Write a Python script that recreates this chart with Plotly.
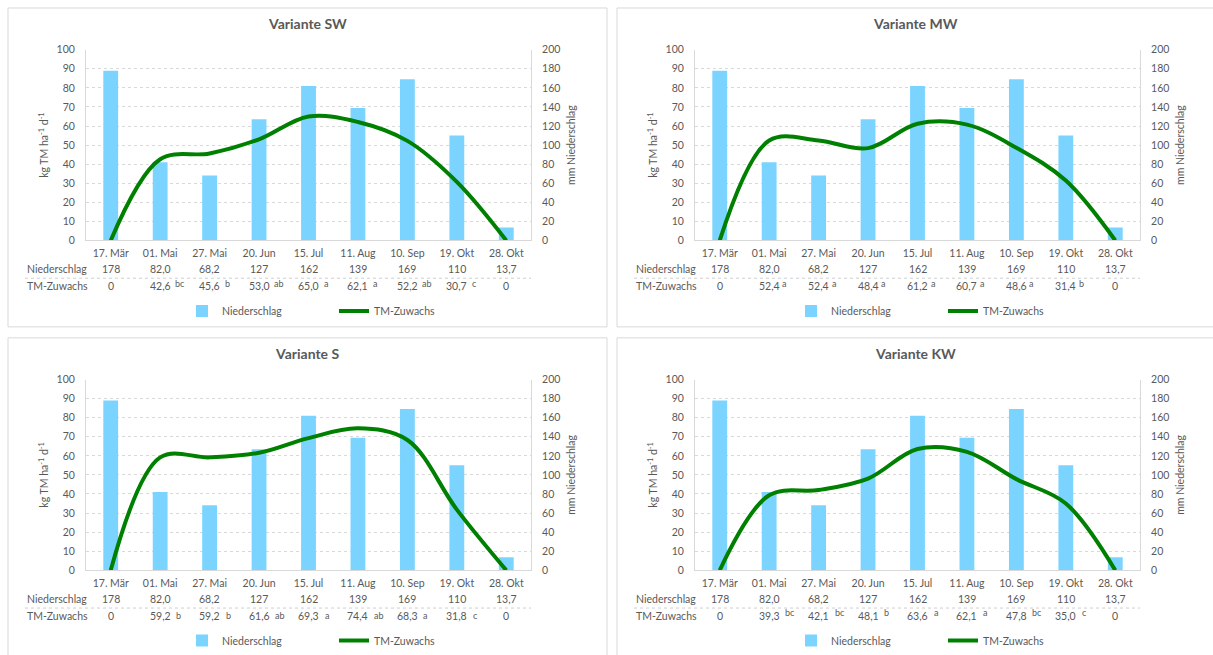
import plotly.graph_objects as go

W, H = 1213, 655

dates = ["17. Mär", "01. Mai", "27. Mai", "20. Jun", "15. Jul", "11. Aug", "10. Sep", "19. Okt", "28. Okt"]
niederschlag = [178, 82.0, 68.2, 127, 162, 139, 169, 110, 13.7]

titles = ["Variante SW", "Variante MW", "Variante S", "Variante KW"]

tm_sw = [0, 42.6, 45.6, 53.0, 65.0, 62.1, 52.2, 30.7, 0]
sig_sw = ["", "bc", "b", "ab", "a", "a", "ab", "c", ""]
tm_mw = [0, 52.4, 52.4, 48.4, 61.2, 60.7, 48.6, 31.4, 0]
sig_mw = ["", "a", "a", "a", "a", "a", "a", "b", ""]
tm_s = [0, 59.2, 59.2, 61.6, 69.3, 74.4, 68.3, 31.8, 0]
sig_s = ["", "b", "b", "ab", "a", "ab", "a", "c", ""]
tm_kw = [0, 39.3, 42.1, 48.1, 63.6, 62.1, 47.8, 35.0, 0]
sig_kw = ["", "bc", "bc", "b", "a", "a", "bc", "c", ""]

tm_all = [tm_sw, tm_mw, tm_s, tm_kw]
sig_all = [sig_sw, sig_mw, sig_s, sig_kw]

BAR_COLOR = "#7bd4ff"
LINE_COLOR = "#008000"
TXT = "#595959"
GRID = "#d9d9d9"
FONT = "Lato"


def fmt_n(v):
    return f"{v:.0f}" if v >= 100 else f"{v:.1f}".replace(".", ",")


def fmt_tm(v):
    return "0" if v == 0 else f"{v:.1f}".replace(".", ",")


def px(x):
    return x / W


def py(y):
    # vertical pixel position (top-down) -> paper fraction, with a small
    # correction for the way the page is photographed
    y = (y - 6.0) / 0.982
    return 1 - y / H


# panel offsets (pixels)
offsets = [(0, 0), (609, 0), (0, 332), (609, 332)]
# panel 1 geometry
PL, PR, PT, PB = 86, 531, 50, 242
letter_raise = [3, 3, 0, 3]
letter_shift = [13, 11, 14, 14]

fig = go.Figure()
layout = dict(
    width=W, height=H, margin=dict(l=0, r=0, t=0, b=0),
    paper_bgcolor="white", plot_bgcolor="rgba(0,0,0,0)",
    font=dict(family=FONT, color=TXT, size=10),
    showlegend=True,
)
annotations = []
shapes = []

for k in range(4):
    dx, dy = offsets[k]
    xname = "x" if k == 0 else f"x{k+1}"
    xkey = "xaxis" if k == 0 else f"xaxis{k+1}"
    yb = 2 * k + 1
    yl = 2 * k + 2
    ybname = "y" if yb == 1 else f"y{yb}"
    ybkey = "yaxis" if yb == 1 else f"yaxis{yb}"
    ylname = f"y{yl}"
    ylkey = f"yaxis{yl}"
    legname = "legend" if k == 0 else f"legend{k+1}"

    fig.add_trace(go.Bar(
        x=dates, y=niederschlag, name="Niederschlag", width=0.3,
        marker=dict(color=BAR_COLOR, line=dict(width=0)),
        xaxis=xname, yaxis=ybname, legend=legname,
    ))
    fig.add_trace(go.Scatter(
        x=dates, y=tm_all[k], name="TM-Zuwachs", mode="lines",
        line=dict(color=LINE_COLOR, width=4, shape="spline", smoothing=1.0),
        xaxis=xname, yaxis=ylname, legend=legname,
    ))

    xdom = [px(PL + dx), px(PR + dx)]
    ydom = [py(PB + dy), py(PT + dy)]

    layout[xkey] = dict(
        domain=xdom, anchor=ybname, type="category", range=[-0.5, 8.5],
        showline=True, linecolor=GRID, linewidth=1, showgrid=False,
        ticks="", tickfont=dict(size=10.5, color=TXT), ticklabelstandoff=3,
        fixedrange=True,
    )
    layout[ybkey] = dict(
        domain=ydom, anchor=xname, side="right", range=[0, 200], dtick=20,
        tick0=0, showgrid=True, gridcolor=GRID, griddash="dot", gridwidth=1,
        showline=True, linecolor=GRID, linewidth=1, zeroline=False,
        ticks="", tickfont=dict(size=10.5, color=TXT), ticklabelstandoff=8,
        title=dict(text="mm Niederschlag", font=dict(size=10.5, color=TXT), standoff=8),
    )
    layout[ylkey] = dict(
        overlaying=ybname, anchor=xname, side="left", range=[0, 100], dtick=10,
        tick0=0, showgrid=False, showline=True, linecolor=GRID, linewidth=1,
        zeroline=False, ticks="", tickfont=dict(size=10.5, color=TXT), ticklabelstandoff=8,
        title=dict(text="kg TM ha<sup>-1</sup> d<sup>-1</sup>", font=dict(size=10.5, color=TXT), standoff=5),
    )
    layout[legname] = dict(
        orientation="h", x=px(182 + dx), y=py(313 + dy), xanchor="left", yanchor="middle",
        font=dict(size=10.5, color=TXT), bgcolor="rgba(0,0,0,0)",
        itemwidth=30, entrywidth=107, entrywidthmode="pixels", tracegroupgap=0,
    )

    # panel border
    shapes.append(dict(type="rect", xref="paper", yref="paper",
                       x0=px(8 + dx), x1=px(607 + dx), y0=py(329 + dy), y1=py(8 + dy),
                       line=dict(color="#d9d9d9", width=1), layer="below"))
    # separator dotted line in the table
    shapes.append(dict(type="line", xref="paper", yref="paper",
                       x0=px(25 + dx), x1=px(531 + dx), y0=py(280 + dy), y1=py(280 + dy),
                       line=dict(color="#cfcfcf", width=1, dash="dot")))

    # title
    annotations.append(dict(text=f"<b>{titles[k]}</b>", xref="paper", yref="paper",
                            x=px(307 + dx), y=py(24 + dy), xanchor="center", yanchor="middle",
                            showarrow=False, font=dict(size=14, color=TXT)))
    # row labels
    annotations.append(dict(text="Niederschlag", xref="paper", yref="paper",
                            x=px(25 + dx), y=py(271 + dy), xanchor="left", yanchor="middle",
                            showarrow=False, font=dict(size=10.5, color=TXT)))
    annotations.append(dict(text="TM-Zuwachs", xref="paper", yref="paper",
                            x=px(25 + dx), y=py(288 + dy), xanchor="left", yanchor="middle",
                            showarrow=False, font=dict(size=10.5, color=TXT)))
    for i, d in enumerate(dates):
        annotations.append(dict(text=fmt_n(niederschlag[i]), xref=xname, yref="paper",
                                x=d, y=py(271 + dy), xanchor="center", yanchor="middle",
                                showarrow=False, font=dict(size=10.5, color=TXT)))
        annotations.append(dict(text=fmt_tm(tm_all[k][i]), xref=xname, yref="paper",
                                x=d, y=py(288 + dy), xanchor="center", yanchor="middle",
                                showarrow=False, font=dict(size=10.5, color=TXT)))
        if sig_all[k][i]:
            annotations.append(dict(text=sig_all[k][i], xref=xname, yref="paper",
                                    x=d, y=py(288 + dy), xanchor="left", yanchor="middle",
                                    xshift=letter_shift[k], yshift=letter_raise[k],
                                    showarrow=False, font=dict(size=9, color=TXT)))

layout["annotations"] = annotations
layout["shapes"] = shapes
fig.update_layout(**layout)
fig.write_html("out.html")
